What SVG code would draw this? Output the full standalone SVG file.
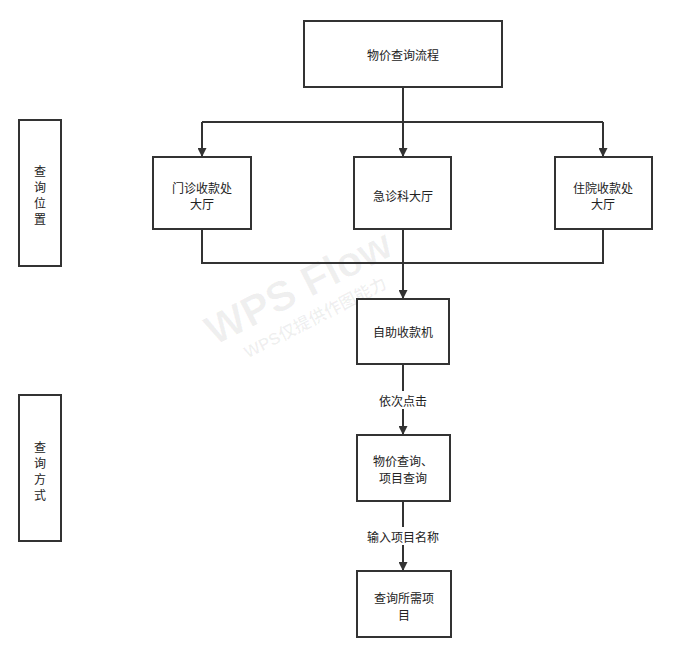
<svg xmlns="http://www.w3.org/2000/svg" width="673" height="659" viewBox="0 0 673 659">
<style>
.box{fill:#fff;stroke:#333;stroke-width:2}
.t{font-family:"Noto Sans CJK SC","Liberation Sans",sans-serif;font-size:12px;fill:#222;text-anchor:middle;dominant-baseline:central}
.c{fill:none;stroke:#333;stroke-width:2}
.wm{font-family:"Liberation Sans","Noto Sans CJK SC",sans-serif;fill:#000;fill-opacity:0.06;font-weight:bold;text-anchor:middle}
</style>
<defs>
<marker id="ah" viewBox="0 0 10 10" refX="10" refY="5" markerWidth="4.5" markerHeight="4.5" orient="auto" markerUnits="strokeWidth">
<path d="M0,0 L10,5 L0,10 Z" fill="#333"/>
</marker>
</defs>
<rect width="673" height="659" fill="#fff"/>
<g id="watermark">
<text class="wm" x="305" y="300" font-size="42" transform="rotate(-27 305 300)">WPS Flow</text>
<text class="wm" x="318" y="323" font-size="17" transform="rotate(-27 318 323)">WPS仅提供作图能力</text>
</g>
<g id="connectors">
<path class="c" d="M403,87 V122"/>
<path class="c" d="M202,122 H603"/>
<path class="c" d="M202,122 V157" marker-end="url(#ah)"/>
<path class="c" d="M403,122 V157" marker-end="url(#ah)"/>
<path class="c" d="M603,122 V157" marker-end="url(#ah)"/>
<path class="c" d="M202,229 V263 H603 V229"/>
<path class="c" d="M403,229 V299" marker-end="url(#ah)"/>
<path class="c" d="M403,364 V435" marker-end="url(#ah)"/>
<rect x="373" y="391" width="60" height="18" fill="#fff"/>
<text class="t" x="403" y="400">依次点击</text>
<path class="c" d="M403,501 V571" marker-end="url(#ah)"/>
<rect x="364" y="527" width="78" height="18" fill="#fff"/>
<text class="t" x="403" y="536">输入项目名称</text>
</g>
<g id="n-top"><rect class="box" x="304" y="21" width="198" height="66"/><text class="t" x="403" y="54">物价查询流程</text></g>
<g id="n-left"><rect class="box" x="153" y="157" width="98" height="72"/><text class="t" x="202" y="187">门诊收款处</text><text class="t" x="202" y="203">大厅</text></g>
<g id="n-center"><rect class="box" x="354" y="157" width="97" height="72"/><text class="t" x="403" y="195">急诊科大厅</text></g>
<g id="n-right"><rect class="box" x="555" y="157" width="97" height="72"/><text class="t" x="603" y="187">住院收款处</text><text class="t" x="603" y="203">大厅</text></g>
<g id="n-kiosk"><rect class="box" x="357" y="299" width="92" height="65"/><text class="t" x="403" y="331">自助收款机</text></g>
<g id="n-query"><rect class="box" x="357" y="435" width="93" height="66"/><text class="t" x="403" y="460">物价查询、</text><text class="t" x="403" y="477">项目查询</text></g>
<g id="n-result"><rect class="box" x="357" y="571" width="94" height="66"/><text class="t" x="404" y="597">查询所需项</text><text class="t" x="404" y="614">目</text></g>
<g id="n-loc"><rect class="box" x="19" y="120" width="42" height="146"/><text class="t" x="40" y="170">查</text><text class="t" x="40" y="186">询</text><text class="t" x="40" y="202">位</text><text class="t" x="40" y="218">置</text></g>
<g id="n-way"><rect class="box" x="19" y="395" width="42" height="146"/><text class="t" x="40" y="446">查</text><text class="t" x="40" y="462">询</text><text class="t" x="40" y="478">方</text><text class="t" x="40" y="494">式</text></g>
</svg>
